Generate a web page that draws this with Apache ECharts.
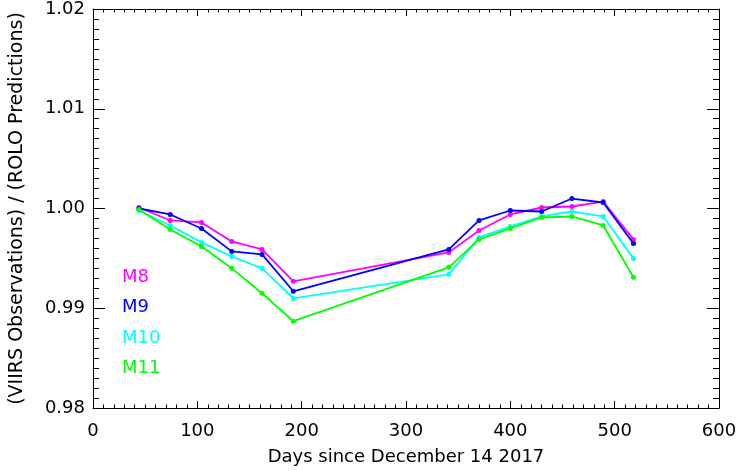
<!DOCTYPE html>
<html>
<head>
<meta charset="utf-8">
<script src="https://cdn.jsdelivr.net/npm/echarts@6/dist/echarts.min.js"></script>
<style>html,body{margin:0;padding:0;background:#fff;}#c{width:743px;height:471px;}</style>
</head>
<body>
<div id="c"></div>
<script>
const days = [44, 74, 104, 133, 162, 192, 341, 370, 400, 430, 459, 489, 518];
const m8  = [1.0001, 0.9988, 0.9986, 0.9967, 0.9959, 0.9927, 0.9956, 0.9978, 0.9994, 1.0001, 1.0002, 1.0007, 0.9969];
const m9  = [1.0000, 0.9994, 0.9980, 0.9957, 0.9954, 0.9917, 0.9959, 0.9988, 0.9998, 0.9997, 1.0010, 1.0006, 0.9965];
const m10 = [0.9998, 0.9983, 0.9966, 0.9952, 0.9940, 0.9910, 0.9934, 0.9971, 0.9982, 0.9992, 0.9997, 0.9992, 0.9950];
const m11 = [0.9999, 0.9979, 0.9962, 0.9940, 0.9915, 0.9887, 0.9941, 0.9969, 0.9980, 0.9991, 0.9992, 0.9983, 0.9931];
const xTicks = [0, 100, 200, 300, 400, 500, 600];
const yTicks = [0.98, 0.99, 1.00, 1.01, 1.02];
const names = ['M8', 'M9', 'M10', 'M11'];
const colors = ['#ff00ff', '#0000ff', '#00ffff', '#00ff00'];
const values = [m8, m9, m10, m11];

const font = 'DejaVu Sans';
const chart = echarts.init(document.getElementById('c'), null, {renderer: 'canvas'});

function xAxisCfg(pos, show) {
  return {
    type: 'value', position: pos, min: xTicks[0], max: xTicks[xTicks.length - 1], interval: 100,
    axisLine: {show: true, onZero: false, lineStyle: {color: '#000', width: 1}},
    axisTick: {show: true, inside: true, length: 7, lineStyle: {color: '#000'}},
    minorTick: {show: true, splitNumber: 10, length: 3.5, lineStyle: {color: '#000'}},
    splitLine: {show: false},
    axisLabel: {show: show, color: '#000', fontFamily: font, fontSize: 18, margin: 14},
    name: show ? 'Days since December 14 2017' : '',
    nameLocation: 'middle', nameGap: 40,
    nameTextStyle: {color: '#000', fontFamily: font, fontSize: 18}
  };
}
function yAxisCfg(pos, show) {
  return {
    type: 'value', position: pos, min: yTicks[0], max: yTicks[yTicks.length - 1], interval: 0.01,
    axisLine: {show: true, onZero: false, lineStyle: {color: '#000', width: 1}},
    axisTick: {show: true, inside: true, length: 12, lineStyle: {color: '#000'}},
    minorTick: {show: true, splitNumber: 10, length: 6, lineStyle: {color: '#000'}},
    splitLine: {show: false},
    axisLabel: {show: show, color: '#000', fontFamily: font, fontSize: 18, margin: 8,
      formatter: v => v.toFixed(2)},
    name: show ? '(VIIRS Observations) / (ROLO Predictions)' : '',
    nameLocation: 'middle', nameGap: 66,
    nameTextStyle: {color: '#000', fontFamily: font, fontSize: 19}
  };
}

chart.setOption({
  backgroundColor: '#fff',
  animation: false,
  grid: {left: 90, right: 24, top: 9, bottom: 58, containLabel: false},
  xAxis: [xAxisCfg('bottom', true), xAxisCfg('top', false)],
  yAxis: [yAxisCfg('left', true), yAxisCfg('right', false)],
  legend: {
    orient: 'vertical', left: 117, top: 268, padding: 0, icon: 'none', itemWidth: 0, itemHeight: 16, itemGap: 12.5,
    data: names.map((n, i) => ({name: n, textStyle: {color: colors[i]}})),
    textStyle: {fontFamily: font, fontSize: 18, lineHeight: 16, padding: 0}
  },
  series: names.map((n, i) => ({
    name: n, type: 'line', xAxisIndex: 0, yAxisIndex: 0,
    data: days.map((d, j) => [d, values[i][j]]),
    symbol: 'circle', symbolSize: 5, showSymbol: true,
    lineStyle: {color: colors[i], width: 1.8},
    itemStyle: {color: colors[i]},
    z: 2 + i
  }))
});
</script>
</body>
</html>
